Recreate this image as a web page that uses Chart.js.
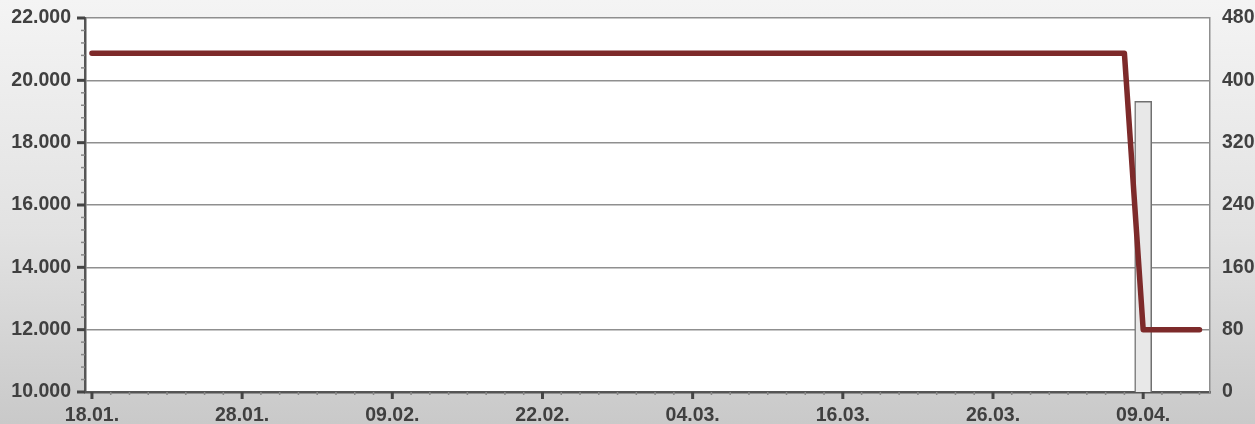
<!DOCTYPE html>
<html>
<head>
<meta charset="utf-8">
<script src="https://cdn.jsdelivr.net/npm/chart.js@4"></script>
<style>
  html, body { margin: 0; padding: 0; }
  body { width: 1255px; height: 424px; background: linear-gradient(to bottom, #f4f4f4 0%, #e2e2e2 55%, #c9c9c9 100%); overflow: hidden; }
  #c { display: block; }
</style>
</head>
<body>
<canvas id="c" width="1255" height="424"></canvas>
<script>
// ---- data ----
const tickLabels = ['18.01.', '28.01.', '09.02.', '22.02.', '04.03.', '16.03.', '26.03.', '09.04.'];
const tickIndex  = [0, 8, 16, 24, 32, 40, 48, 56];
const priceX = [0, 55, 56, 59];
const priceY = [20870, 20870, 12000, 12000];
const volumeX = [56];
const volumeY = [373];
const leftTicks  = [10000, 12000, 14000, 16000, 18000, 20000, 22000];
const rightTicks = [0, 80, 160, 240, 320, 400, 480];

const TEXT = '#404040';
const FONT = { family: 'Liberation Sans, Arial, sans-serif', size: 19.5, weight: 'bold' };

const plotBg = {
  id: 'plotBg',
  beforeDraw(chart) {
    const a = chart.chartArea, ctx = chart.ctx;
    ctx.save();
    ctx.fillStyle = '#ffffff';
    ctx.fillRect(a.left, a.top, a.right - a.left, a.bottom - a.top);
    ctx.restore();
  }
};

const minorTicks = {
  id: 'minorTicks',
  afterDraw(chart) {
    const ctx = chart.ctx, a = chart.chartArea;
    const xs = chart.scales.x, ys = chart.scales.y;
    ctx.save();
    for (let i = Math.ceil(xs.min); i <= Math.floor(xs.max); i++) {
      const px = xs.getPixelForValue(i);
      const major = tickIndex.includes(i);
      ctx.lineWidth = major ? 3 : 1.5;
      ctx.strokeStyle = major ? '#444444' : '#888888';
      ctx.beginPath();
      ctx.moveTo(px, a.bottom);
      ctx.lineTo(px, a.bottom + (major ? 7 : 3));
      ctx.stroke();
    }
    for (let v = ys.min; v <= ys.max; v += 400) {
      const py = ys.getPixelForValue(v);
      const major = leftTicks.includes(v);
      ctx.lineWidth = major ? 3 : 1.5;
      ctx.strokeStyle = major ? '#444444' : '#888888';
      ctx.beginPath();
      ctx.moveTo(a.left, py);
      ctx.lineTo(a.left - (major ? 8 : 4), py);
      ctx.stroke();
    }
    ctx.restore();
  }
};

function noPadV(s) { s.paddingTop = 0; s.paddingBottom = 0; }

new Chart(document.getElementById('c'), {
  data: {
    datasets: [
      {
        type: 'line',
        data: priceX.map((x, i) => ({ x, y: priceY[i] })),
        yAxisID: 'y',
        borderColor: '#7d2a2a',
        borderWidth: 5.5,
        borderCapStyle: 'round',
        borderJoinStyle: 'round',
        pointRadius: 0,
        tension: 0,
        order: 0
      },
      {
        type: 'bar',
        data: volumeX.map((x, i) => ({ x, y: volumeY[i] })),
        yAxisID: 'y1',
        backgroundColor: '#e8e8e8',
        borderColor: '#707070',
        borderWidth: 1.5,
        borderSkipped: 'bottom',
        barThickness: 17,
        order: 1
      }
    ]
  },
  options: {
    responsive: false,
    animation: false,
    devicePixelRatio: 1,
    layout: { padding: { top: 18, left: 0, right: 0, bottom: 0 } },
    plugins: { legend: { display: false }, tooltip: { enabled: false } },
    scales: {
      x: {
        type: 'linear',
        min: -0.37,
        max: 59.56,
        offset: false,
        afterFit(s) { s.height = 32; s.paddingLeft = 0; s.paddingRight = 0; },
        afterBuildTicks(s) { s.ticks = tickIndex.map(v => ({ value: v })); },
        ticks: {
          autoSkip: false,
          maxRotation: 0,
          padding: 12,
          color: TEXT,
          font: FONT,
          callback(v) { const k = tickIndex.indexOf(v); return k >= 0 ? tickLabels[k] : ''; }
        },
        grid: { display: true, drawOnChartArea: false, drawTicks: false },
        border: { display: true, color: '#555555', width: 2.5 }
      },
      y: {
        type: 'linear',
        position: 'left',
        min: 10000,
        max: 22000,
        afterFit(s) { s.width = 85; noPadV(s); },
        afterBuildTicks(s) { s.ticks = leftTicks.map(v => ({ value: v })); },
        ticks: {
          padding: 14,
          color: TEXT,
          font: FONT,
          callback(v) { return (v / 1000).toFixed(3); }
        },
        grid: { color: '#8f8f8f', lineWidth: 1.5, drawTicks: false },
        border: { display: true, color: '#555555', width: 2.5 }
      },
      y1: {
        type: 'linear',
        position: 'right',
        min: 0,
        max: 480,
        afterFit(s) { s.width = 45; noPadV(s); },
        afterBuildTicks(s) { s.ticks = rightTicks.map(v => ({ value: v })); },
        ticks: {
          padding: 12,
          color: TEXT,
          font: FONT
        },
        grid: { display: false, drawOnChartArea: false, drawTicks: false },
        border: { display: true, color: '#8f8f8f', width: 1.5 }
      }
    }
  },
  plugins: [plotBg, minorTicks]
});
</script>
</body>
</html>
